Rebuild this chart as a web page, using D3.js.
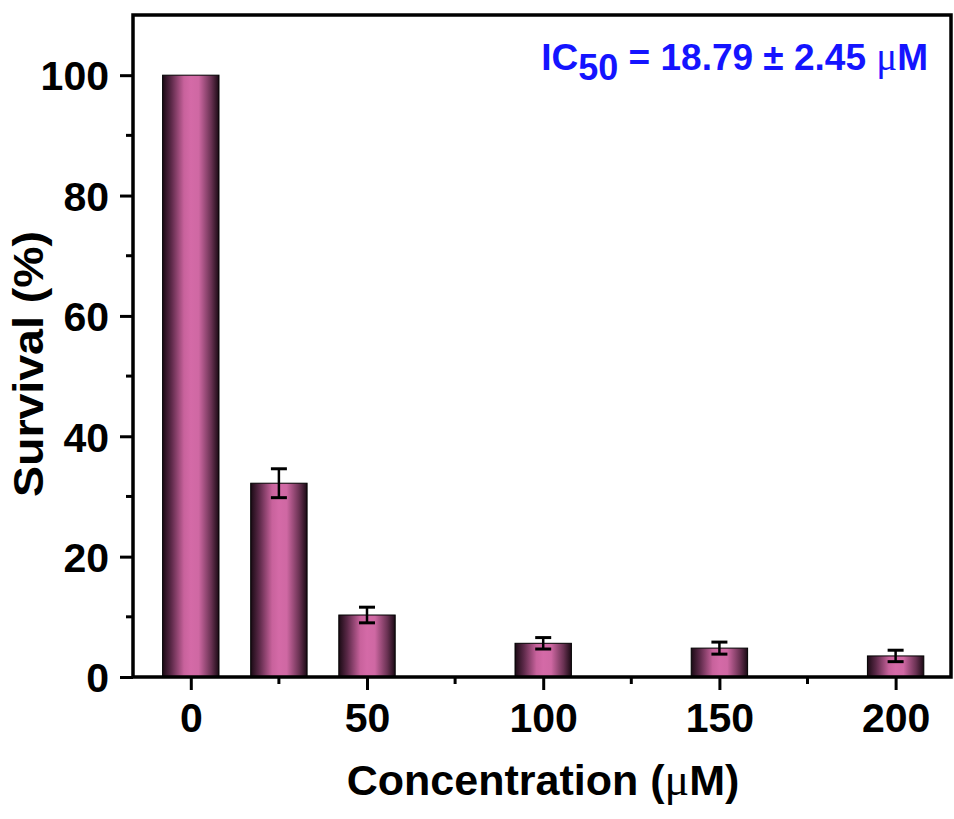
<!DOCTYPE html>
<html>
<head>
<meta charset="utf-8">
<script src="https://cdn.jsdelivr.net/npm/d3@7"></script>
<style>
  body { margin: 0; background: #fff; }
  svg { display: block; font-family: "Liberation Sans", Arial, sans-serif; }
  .mu { font-family: "Liberation Serif", "Times New Roman", serif; font-weight: normal; }
</style>
</head>
<body>
<svg id="chart" width="954" height="819"></svg>
<script>
// data
const concentrations = [0, 25, 50, 100, 150, 200];
const survival = [100, 32.2, 10.3, 5.6, 4.8, 3.5];
const survivalErr = [0, 2.4, 1.3, 0.95, 1.0, 0.95];
const xTicks = [0, 50, 100, 150, 200];
const xMinorTicks = [25, 75, 125, 175];
const yTicks = [0, 20, 40, 60, 80, 100];
const yMinorTicks = [10, 30, 50, 70, 90];

const width = 954, height = 819;
const margin = {top: 15, right: 2, bottom: 142, left: 133};
const barWidth = 16; // in concentration units

const svg = d3.select("#chart");

const x = d3.scaleLinear()
    .domain([-16.4, 216])
    .range([margin.left, width - margin.right]);
const y = d3.scaleLinear()
    .domain([0, 110])
    .range([height - margin.bottom, margin.top]);

// bar gradient: dark edges, pink middle
const grad = svg.append("defs").append("linearGradient")
    .attr("id", "barGrad")
    .attr("x1", "0%").attr("x2", "100%")
    .attr("y1", "0%").attr("y2", "0%");
[[0, "#1a0a14"], [0.15, "#5a2847"], [0.38, "#c8629c"], [0.5, "#d46aa7"], [0.64, "#cf68a3"], [0.86, "#6a3253"], [1, "#1a0a14"]]
  .forEach(s => grad.append("stop").attr("offset", s[0]).attr("stop-color", s[1]));

const bars = concentrations.map((c, i) => ({c: c, v: survival[i], e: survivalErr[i]}));

const g = svg.append("g");

g.selectAll("rect.bar")
  .data(bars)
  .enter().append("rect")
    .attr("class", "bar")
    .attr("x", d => x(d.c - barWidth / 2))
    .attr("width", d => x(d.c + barWidth / 2) - x(d.c - barWidth / 2))
    .attr("y", d => y(d.v))
    .attr("height", d => y(0) - y(d.v))
    .attr("fill", "url(#barGrad)")
    .attr("stroke", "#000")
    .attr("stroke-width", 1);

// error bars
const err = g.selectAll("g.err")
  .data(bars.filter(d => d.e > 0))
  .enter().append("g")
    .attr("class", "err")
    .attr("stroke", "#000");
err.append("line")
    .attr("x1", d => x(d.c)).attr("x2", d => x(d.c))
    .attr("y1", d => y(d.v - d.e)).attr("y2", d => y(d.v + d.e))
    .attr("stroke-width", 2.5);
err.selectAll("line.cap")
  .data(d => [d.v - d.e, d.v + d.e].map(v => ({c: d.c, v: v})))
  .enter().append("line")
    .attr("class", "cap")
    .attr("x1", d => x(d.c) - 8).attr("x2", d => x(d.c) + 8)
    .attr("y1", d => y(d.v)).attr("y2", d => y(d.v))
    .attr("stroke-width", 3);

// axes
const xAxis = d3.axisBottom(x)
    .tickValues(xTicks)
    .tickSize(13)
    .tickPadding(14)
    .tickSizeOuter(0);
const yAxis = d3.axisLeft(y)
    .tickValues(yTicks)
    .tickSize(13)
    .tickPadding(11)
    .tickSizeOuter(0);

const gx = svg.append("g")
    .attr("transform", "translate(0," + y(0) + ")")
    .call(xAxis);
const gy = svg.append("g")
    .attr("transform", "translate(" + margin.left + ",0)")
    .call(yAxis);

[gx, gy].forEach(a => {
  a.select(".domain").remove();
  a.selectAll(".tick line").attr("stroke", "#000").attr("stroke-width", 3);
  a.selectAll(".tick text")
    .attr("fill", "#000")
    .style("font-size", "41px")
    .style("font-weight", "bold");
});
gx.selectAll(".tick text").attr("dy", "0.68em");
gy.selectAll(".tick text").attr("dy", "0.36em");

// minor ticks
svg.append("g").selectAll("line")
  .data(xMinorTicks)
  .enter().append("line")
    .attr("x1", d => x(d)).attr("x2", d => x(d))
    .attr("y1", y(0)).attr("y2", y(0) + 7)
    .attr("stroke", "#000").attr("stroke-width", 3);
svg.append("g").selectAll("line")
  .data(yMinorTicks)
  .enter().append("line")
    .attr("x1", margin.left - 7).attr("x2", margin.left)
    .attr("y1", d => y(d)).attr("y2", d => y(d))
    .attr("stroke", "#000").attr("stroke-width", 3);

// frame
svg.append("rect")
    .attr("x", margin.left)
    .attr("y", margin.top)
    .attr("width", width - margin.right - margin.left - 1)
    .attr("height", y(0) - margin.top)
    .attr("fill", "none")
    .attr("stroke", "#000")
    .attr("stroke-width", 3.5);

// axis titles
const xt = svg.append("text")
    .attr("x", 543)
    .attr("y", 795)
    .attr("text-anchor", "middle")
    .style("font-size", "43px")
    .style("font-weight", "bold");
xt.append("tspan").text("Concentration (");
xt.append("tspan").attr("class", "mu").style("font-size", "46px").text("μ");
xt.append("tspan").text("M)");

svg.append("text")
    .attr("transform", "translate(43,364) rotate(-90)")
    .attr("text-anchor", "middle")
    .attr("textLength", 266)
    .attr("lengthAdjust", "spacingAndGlyphs")
    .style("font-size", "43px")
    .style("font-weight", "bold")
    .text("Survival (%)");

// IC50 annotation
const ic = svg.append("text")
    .attr("x", 928)
    .attr("y", 70)
    .attr("text-anchor", "end")
    .attr("fill", "#1414ff")
    .style("font-size", "37px")
    .style("font-weight", "bold");
ic.append("tspan").text("IC");
ic.append("tspan").attr("dy", 10).style("font-size", "36px").text("50");
ic.append("tspan").attr("dy", -10).text(" = 18.79 ± 2.45 ");
ic.append("tspan").attr("class", "mu").style("font-size", "39px").text("μ");
ic.append("tspan").text("M");
</script>
</body>
</html>
